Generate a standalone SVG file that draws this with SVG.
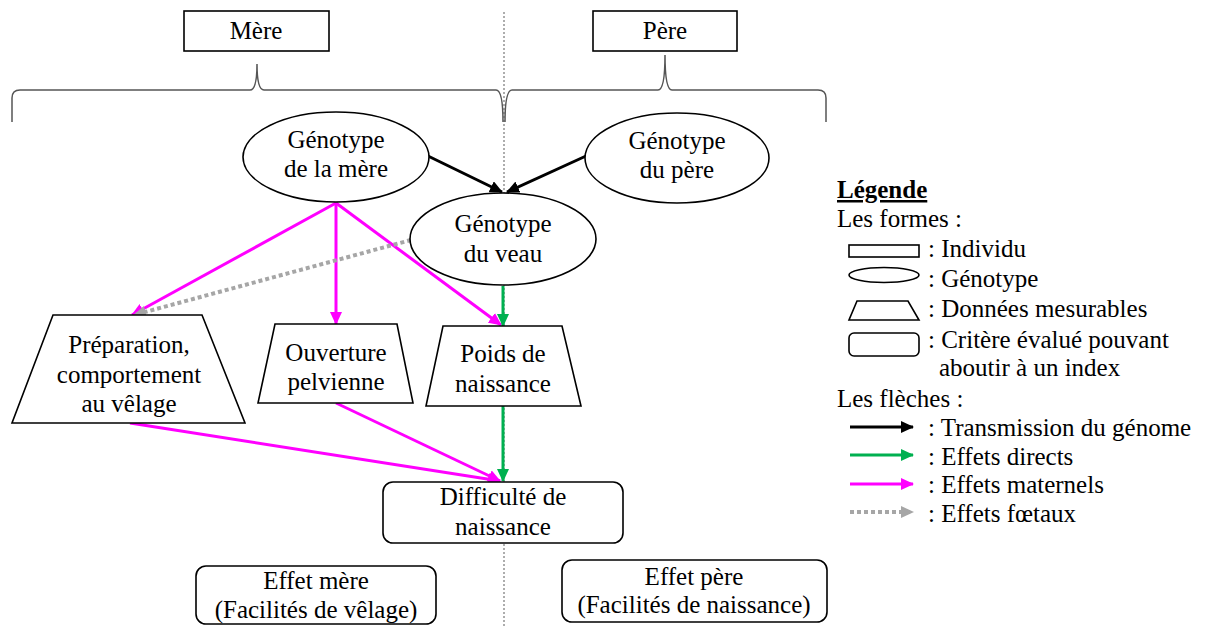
<svg xmlns="http://www.w3.org/2000/svg" width="1212" height="626" viewBox="0 0 1212 626">
<style>
text{font-family:"Liberation Serif","DejaVu Serif",serif;font-size:25px;fill:#000}
.c{text-anchor:middle}
.shape{fill:#fff;stroke:#000;stroke-width:1.6}
.brace{fill:none;stroke:#555;stroke-width:1.5}
.blk{stroke:#000;stroke-width:3;fill:none}
.grn{stroke:#00B050;stroke-width:3;fill:none}
.mag{stroke:#FF00FF;stroke-width:3;fill:none}
.gry{stroke:#A6A6A6;stroke-width:4;fill:none;stroke-dasharray:4 3}
</style>
<defs>
<marker id="aK" markerUnits="userSpaceOnUse" markerWidth="14" markerHeight="12" refX="12" refY="6" orient="auto"><path d="M0,0 L13,6 L0,12 z" fill="#000"/></marker>
<marker id="aG" markerUnits="userSpaceOnUse" markerWidth="14" markerHeight="12" refX="12" refY="6" orient="auto"><path d="M0,0 L13,6 L0,12 z" fill="#00B050"/></marker>
<marker id="aM" markerUnits="userSpaceOnUse" markerWidth="14" markerHeight="12" refX="12" refY="6" orient="auto"><path d="M0,0 L13,6 L0,12 z" fill="#FF00FF"/></marker>
<marker id="aY" markerUnits="userSpaceOnUse" markerWidth="14" markerHeight="12" refX="12" refY="6" orient="auto"><path d="M0,0 L13,6 L0,12 z" fill="#A6A6A6"/></marker>
</defs>
<rect width="1212" height="626" fill="#fff"/>
<line x1="504" y1="12" x2="504" y2="626" stroke="#777" stroke-width="1.2" stroke-dasharray="2 2"/>
<g id="braces">
<path class="brace" d="M12,122 L12,98 Q12,90 20,90 L250,90 Q257,90 257,64 Q257,90 264,90 L496,90 Q503,90 503,122"/>
<path class="brace" d="M505,122 Q505,90 512,90 L658,90 Q665,90 665,55 Q665,90 672,90 L818,90 Q826,90 826,98 L826,122"/>
</g>
<g id="connectors">
<line class="blk" x1="428" y1="156" x2="502" y2="192" marker-end="url(#aK)"/>
<line class="blk" x1="586" y1="156" x2="507" y2="192" marker-end="url(#aK)"/>
<line class="mag" x1="336" y1="203" x2="132" y2="315" marker-end="url(#aM)"/>
<line class="mag" x1="336" y1="203" x2="336" y2="324" marker-end="url(#aM)"/>
<line class="mag" x1="336" y1="203" x2="501" y2="325" marker-end="url(#aM)"/>
<line class="gry" x1="411" y1="240" x2="134" y2="315" marker-end="url(#aY)"/>
<line class="grn" x1="503" y1="286" x2="503" y2="326" marker-end="url(#aG)"/>
<line class="grn" x1="503" y1="406" x2="503" y2="481" marker-end="url(#aG)"/>
<line class="mag" x1="130" y1="423" x2="500" y2="481" marker-end="url(#aM)"/>
<line class="mag" x1="336" y1="403" x2="500" y2="481" marker-end="url(#aM)"/>
</g>
<g id="mere"><rect class="shape" x="184" y="11" width="145" height="40"/><text class="c" x="256" y="39">Mère</text></g>
<g id="pere"><rect class="shape" x="593" y="11" width="144" height="40"/><text class="c" x="665" y="39">Père</text></g>
<g id="geno-mere"><ellipse class="shape" cx="336" cy="157" rx="93" ry="45"/><text class="c" x="336" y="148">Génotype</text><text class="c" x="336" y="177">de la mère</text></g>
<g id="geno-pere"><ellipse class="shape" cx="677" cy="158" rx="92" ry="45"/><text class="c" x="677" y="149">Génotype</text><text class="c" x="677" y="178">du père</text></g>
<g id="geno-veau"><ellipse class="shape" cx="503" cy="239" rx="93" ry="46"/><text class="c" x="503" y="232">Génotype</text><text class="c" x="503" y="262">du veau</text></g>
<g id="preparation"><polygon class="shape" points="53,315 202,315 245,423 12,423"/><text class="c" x="129" y="353">Préparation,</text><text class="c" x="129" y="383">comportement</text><text class="c" x="129" y="412">au vêlage</text></g>
<g id="ouverture"><polygon class="shape" points="275,324 397,324 413,403 258,403"/><text class="c" x="336" y="361">Ouverture</text><text class="c" x="336" y="390">pelvienne</text></g>
<g id="poids"><polygon class="shape" points="443,326 562,326 581,406 426,406"/><text class="c" x="503" y="362">Poids de</text><text class="c" x="503" y="392">naissance</text></g>
<g id="difficulte"><rect class="shape" x="383" y="482" width="240" height="61" rx="10"/><text class="c" x="503" y="505">Difficulté de</text><text class="c" x="503" y="535">naissance</text></g>
<g id="effet-mere"><rect class="shape" x="196" y="566" width="240" height="58" rx="10"/><text class="c" x="316" y="589">Effet mère</text><text class="c" x="316" y="618">(Facilités de vêlage)</text></g>
<g id="effet-pere"><rect class="shape" x="562" y="560" width="265" height="62" rx="10"/><text class="c" x="694" y="585">Effet père</text><text class="c" x="694" y="613">(Facilités de naissance)</text></g>
<g id="legende">
<text x="837" y="198" font-weight="bold" text-decoration="underline">Légende</text>
<text x="837" y="227">Les formes :</text>
<rect class="shape" x="849" y="245" width="70" height="12"/><text x="928" y="257">: Individu</text>
<ellipse class="shape" cx="884" cy="275" rx="35" ry="7.5"/><text x="928" y="287">: Génotype</text>
<polygon class="shape" points="857,301 908,301 919,320 849,320"/><text x="928" y="317">: Données mesurables</text>
<rect class="shape" x="849" y="333" width="70" height="23" rx="5"/><text x="928" y="348">: Critère évalué pouvant</text>
<text x="939" y="376">aboutir à un index</text>
<text x="837" y="407">Les flèches :</text>
<line class="blk" x1="850" y1="427" x2="913" y2="427" marker-end="url(#aK)"/><text x="928" y="436">: Transmission du génome</text>
<line class="grn" x1="850" y1="455" x2="913" y2="455" marker-end="url(#aG)"/><text x="928" y="465">: Effets directs</text>
<line class="mag" x1="850" y1="484" x2="913" y2="484" marker-end="url(#aM)"/><text x="928" y="493">: Effets maternels</text>
<line class="gry" x1="850" y1="512" x2="913" y2="512" stroke-width="3" stroke-dasharray="3 2" marker-end="url(#aY)"/><text x="928" y="522">: Effets fœtaux</text>
</g>
</svg>
